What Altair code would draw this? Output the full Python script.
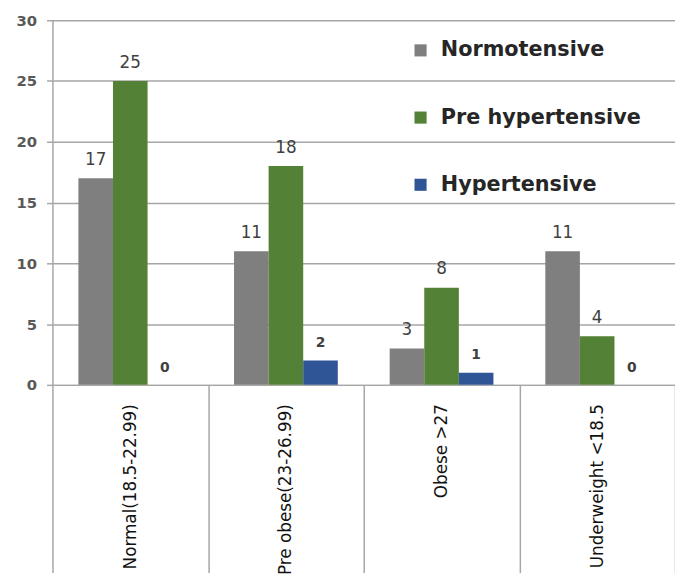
import altair as alt
import pandas as pd

categories = ["Normal(18.5-22.99)", "Pre obese(23-26.99)", "Obese >27", "Underweight <18.5"]
series = ["Normotensive", "Pre hypertensive", "Hypertensive"]
normotensive = [17, 11, 3, 11]
pre_hypertensive = [25, 18, 8, 4]
hypertensive = [0, 2, 1, 0]
colors = ["#7f7f7f", "#538135", "#2f5597"]
y_ticks = [0, 5, 10, 15, 20, 25, 30]

rows = []
for s, vals in zip(series, [normotensive, pre_hypertensive, hypertensive]):
    for c, v in zip(categories, vals):
        rows.append({"category": c, "series": s, "value": v})
df = pd.DataFrame(rows)

GRID = "#a6a6a6"

x = alt.X(
    "category:N", sort=categories,
    scale=alt.Scale(paddingInner=0, paddingOuter=0),
    axis=alt.Axis(
        title=None, labelAngle=-90, labelAlign="right", labelBaseline="middle",
        labelFont="DejaVu Sans", labelFontSize=17, labelColor="#111111",
        tickBand="extent", tickSize=190, tickColor=GRID, tickWidth=1.5,
        labelPadding=-171, domainColor=GRID, domainWidth=1.5, grid=False,
        labelLimit=0,
    ),
)
xo = alt.XOffset("series:N", sort=series,
                 scale=alt.Scale(domain=series, paddingInner=0, paddingOuter=0.75))
y = alt.Y(
    "value:Q", scale=alt.Scale(domain=[0, 30], nice=False),
    axis=alt.Axis(
        title=None, values=y_ticks, grid=True, gridColor=GRID, gridWidth=1.5,
        tickSize=6, tickColor=GRID, tickWidth=1.5, domainColor=GRID, domainWidth=1.5,
        labelFont="DejaVu Sans", labelFontSize=15, labelFontWeight="bold",
        labelColor="#595959", labelPadding=10,
    ),
)
color = alt.Color(
    "series:N", scale=alt.Scale(domain=series, range=colors),
    legend=alt.Legend(
        title=None, orient="none", legendX=362, legendY=20, symbolType="square",
        symbolSize=150, symbolStrokeWidth=0, symbolOpacity=1,
        labelFont="DejaVu Sans", labelFontSize=21, labelFontWeight="bold",
        labelColor="#262626", rowPadding=46, labelOffset=10, padding=0,
        labelLimit=0,
    ),
)

base = alt.Chart(df)
bars = base.mark_bar().encode(x=x, xOffset=xo, y=y, color=color)
text_big = base.transform_filter(alt.datum.series != "Hypertensive").mark_text(
    dy=-18.5, font="DejaVu Sans", fontSize=17, color="#404040", baseline="middle"
).encode(x=x, xOffset=xo, y=y, text="value:Q")
text_small = base.transform_filter(alt.datum.series == "Hypertensive").mark_text(
    dy=-17.5, font="DejaVu Sans", fontSize=14, fontWeight="bold", color="#404040", baseline="middle"
).encode(x=x, xOffset=xo, y=y, text="value:Q")

chart = alt.layer(bars, text_big, text_small).properties(
    width=630, height=369,
    padding={"left": 45, "top": 9, "right": 0, "bottom": 188},
    autosize=alt.AutoSizeParams(type="none"),
    background="white",
).configure_view(stroke=None)

chart.save("out.html", embed_options={"renderer": "svg", "actions": False})
